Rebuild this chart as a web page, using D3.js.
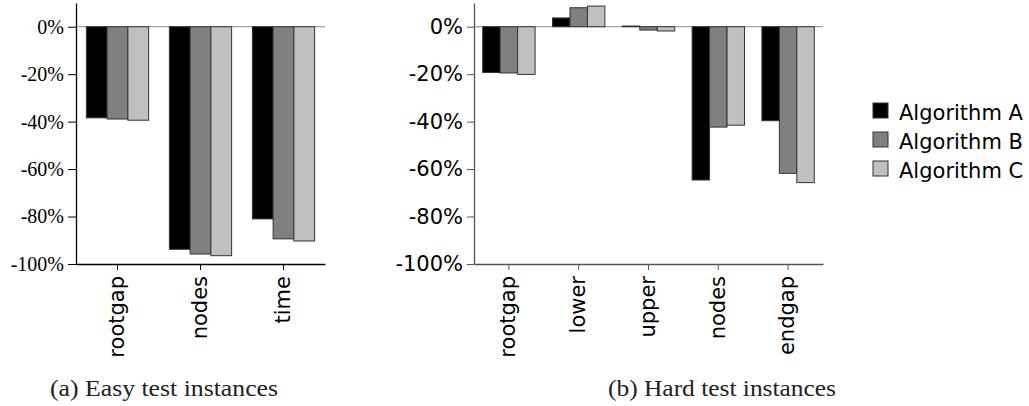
<!DOCTYPE html>
<html>
<head>
<meta charset="utf-8">
<script src="https://cdn.jsdelivr.net/npm/d3@7"></script>
<style>
  body { margin: 0; background: #fff; }
  .tick line { stroke-width: 1; }
</style>
</head>
<body>
<script>
const series = ['Algorithm A', 'Algorithm B', 'Algorithm C'];
const colors = ['#000000', '#808080', '#c0c0c0'];

// (a) easy instances, % change
const easyCats = ['rootgap', 'nodes', 'time'];
const easyA = [-38.4, -93.8, -81.0];
const easyB = [-38.9, -95.8, -89.4];
const easyC = [-39.4, -96.5, -90.3];

// (b) hard instances, % change
const hardCats = ['rootgap', 'lower', 'upper', 'nodes', 'endgap'];
const hardA = [-19.3, 3.7, 0.3, -64.6, -39.6];
const hardB = [-19.5, 8.0, -1.4, -42.3, -61.8];
const hardC = [-20.1, 8.7, -1.8, -41.5, -65.7];

const yTicks = [0, -20, -40, -60, -80, -100];

const width = 1029;
const height = 406;

const svg = d3.select('body').append('svg')
  .attr('width', width)
  .attr('height', height);

function drawPanel(opts) {
  const { cats, vals, left, right, yFont, axisColor, caption, captionX } = opts;
  const top = 3;
  const bottom = 264;

  const y = d3.scaleLinear().domain([-100, 10]).range([bottom, top]);
  const x0 = d3.scaleBand().domain(cats).range([left, right])
    .paddingInner(0.25).paddingOuter(0.125);
  const x1 = d3.scaleBand().domain(series).range([0, x0.bandwidth()]);

  const g = svg.append('g');

  // zero line
  g.append('line')
    .attr('x1', left).attr('x2', right)
    .attr('y1', y(0)).attr('y2', y(0))
    .attr('stroke', '#888').attr('stroke-width', 1);

  const rows = cats.map((c, i) => ({ cat: c, v: series.map((s, k) => ({ s: s, k: k, v: vals[k][i] })) }));

  const grp = g.selectAll('g.cat')
    .data(rows)
    .enter()
    .append('g')
    .attr('class', 'cat')
    .attr('transform', (d) => `translate(${x0(d.cat)}, 0)`);

  grp.selectAll('rect')
    .data((d) => d.v)
    .enter()
    .append('rect')
    .attr('x', (d) => x1(d.s))
    .attr('width', x1.bandwidth())
    .attr('y', (d) => y(Math.max(0, d.v)))
    .attr('height', (d) => Math.abs(y(d.v) - y(0)))
    .attr('fill', (d) => colors[d.k])
    .attr('stroke', '#333')
    .attr('stroke-width', 1);

  const yAxis = d3.axisLeft(y)
    .tickValues(yTicks)
    .tickFormat((d) => d + '%')
    .tickSizeInner(opts.yTick)
    .tickSizeOuter(0)
    .tickPadding(4);

  const ya = g.append('g')
    .attr('transform', `translate(${left}, 0)`)
    .call(yAxis);
  ya.select('.domain').attr('stroke', axisColor).attr('stroke-width', 1.3);
  ya.selectAll('.tick line').attr('stroke', axisColor);
  ya.selectAll('.tick text')
    .attr('font-family', yFont.family)
    .attr('font-size', yFont.size)
    .attr('fill', '#000');

  const xAxis = d3.axisBottom(x0)
    .tickSizeInner(6)
    .tickSizeOuter(0);

  const xa = g.append('g')
    .attr('transform', `translate(0, ${bottom})`)
    .call(xAxis);
  xa.select('.domain').attr('stroke', axisColor).attr('stroke-width', 1.3);
  xa.selectAll('.tick line').attr('stroke', axisColor);
  xa.selectAll('.tick text')
    .attr('font-family', 'DejaVu Sans')
    .attr('font-size', 21)
    .attr('fill', '#000')
    .attr('transform', 'rotate(-90)')
    .attr('x', -12)
    .attr('y', 0)
    .attr('dy', '0.3em')
    .attr('text-anchor', 'end');

  svg.append('text')
    .attr('x', captionX)
    .attr('y', 396)
    .attr('text-anchor', 'middle')
    .attr('font-family', 'Liberation Serif')
    .attr('font-size', 24)
    .attr('fill', '#222')
    .attr('textLength', 228)
    .attr('lengthAdjust', 'spacingAndGlyphs')
    .text(caption);
}

drawPanel({
  cats: easyCats,
  vals: [easyA, easyB, easyC],
  left: 76,
  right: 325,
  yTick: 8,
  yFont: { family: 'Liberation Serif', size: 20 },
  axisColor: '#000',
  caption: '(a) Easy test instances',
  captionX: 164
});

drawPanel({
  cats: hardCats,
  vals: [hardA, hardB, hardC],
  left: 474,
  right: 823,
  yTick: 7,
  yFont: { family: 'DejaVu Sans', size: 21 },
  axisColor: '#555',
  caption: '(b) Hard test instances',
  captionX: 722
});

// legend
const legend = svg.append('g')
  .attr('transform', 'translate(873, 103)');

const item = legend.selectAll('g')
  .data(series)
  .enter()
  .append('g')
  .attr('transform', (d, i) => `translate(0, ${i * 29})`);

item.append('rect')
  .attr('width', 15)
  .attr('height', 15)
  .attr('fill', (d, i) => colors[i])
  .attr('stroke', '#333')
  .attr('stroke-width', 1);

item.append('text')
  .attr('x', 26)
  .attr('y', 17)
  .attr('font-family', 'DejaVu Sans')
  .attr('font-size', 21)
  .attr('fill', '#000')
  .text((d) => d);
</script>
</body>
</html>
